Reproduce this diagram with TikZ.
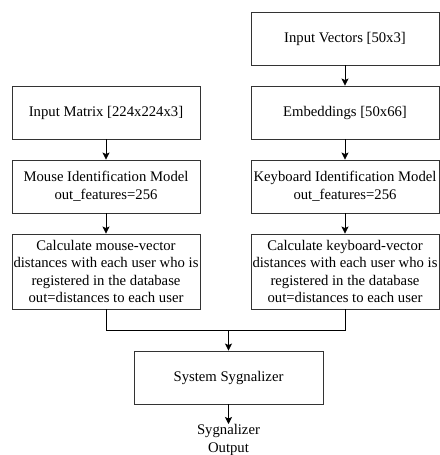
\documentclass[tikz,border=0pt]{standalone}
\usepackage{fontspec}
\setmainfont{Liberation Serif}
\usepackage{tikz}
\usetikzlibrary{positioning,arrows.meta}
\definecolor{edge}{HTML}{333333}
\tikzset{
  block/.style={rectangle, draw=edge, line width=0.9pt, minimum height=53pt, minimum width=188pt,
                font=\fontsize{14.7}{17.5}\selectfont, inner xsep=0pt, inner ysep=2pt, align=center},
  tall/.style={block, minimum height=75pt},
  arr/.style={-{Stealth[length=7pt,width=7pt,inset=1.5pt]}, line width=0.8pt, draw=black},
  wire/.style={line width=0.8pt, draw=black},
}

\begin{document}
\begin{tikzpicture}[x=1pt,y=-1pt]
  \useasboundingbox (0,0) rectangle (439,455);
  % mouse branch
  \node[block] (matrix) at (106,112.5) {Input Matrix [224x224x3]};
  \node[block] (mouse) at (106,186.5) {Mouse Identification Model\\out\_features=256};
  \node[tall] (mdist) at (106,271.5) {Calculate mouse-vector\\distances with each user who is\\registered in the database\\out=distances to each user};
  % keyboard branch
  \node[block] (vectors) at (345,38.5) {Input Vectors [50x3]};
  \node[block] (embed) at (345,112.5) {Embeddings [50x66]};
  \node[block] (keyboard) at (345,186.5) {Keyboard Identification Model\\out\_features=256};
  \node[tall] (kdist) at (345,271.5) {Calculate keyboard-vector\\distances with each user who is\\registered in the database\\out=distances to each user};
  % output
  \node[block, minimum width=189pt] (sygn) at (228.5,377.5) {System Sygnalizer};
  \node[font=\fontsize{14.7}{17.5}\selectfont, align=center, inner sep=0.5pt, anchor=north] (out) at (228.5,424) {Sygnalizer\\Output};
  \coordinate (merge) at (228.5,330);

  \draw[arr] (matrix) -- (mouse);
  \draw[arr] (mouse) -- (mdist);
  \draw[arr] (vectors) -- (embed);
  \draw[arr] (embed) -- (keyboard);
  \draw[arr] (keyboard) -- (kdist);
  \draw[wire] (mdist.south) |- (merge);
  \draw[wire] (kdist.south) |- (merge);
  \draw[arr] (merge) -- (sygn);
  \draw[arr] (sygn) -- (out);
\end{tikzpicture}
\end{document}
